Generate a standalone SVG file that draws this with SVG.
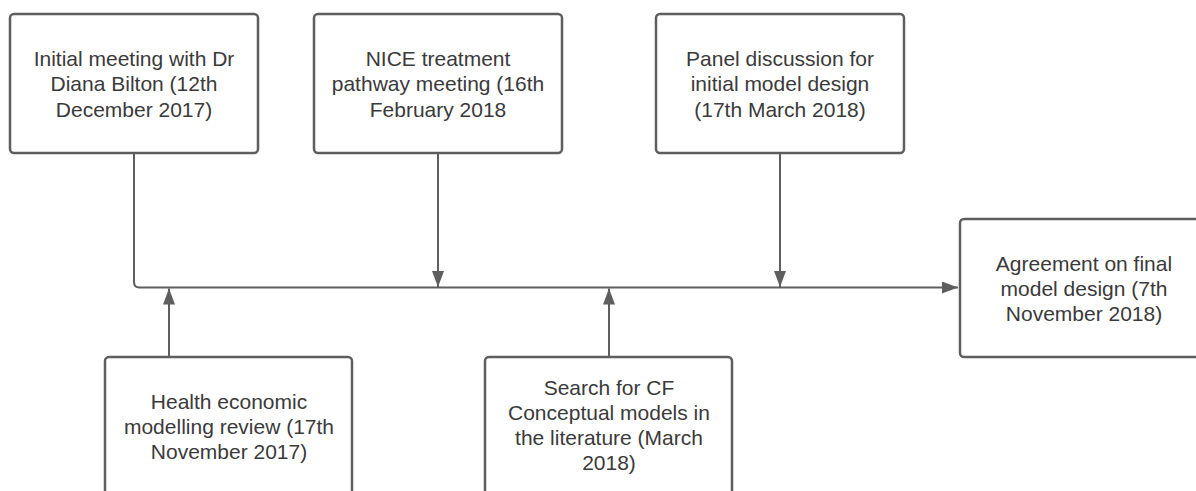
<svg xmlns="http://www.w3.org/2000/svg" width="1196" height="491" viewBox="0 0 1196 491">
  <style>
    .box { fill: #ffffff; stroke: #5e5e5e; stroke-width: 2.5; }
    .lbl { font-family: "Liberation Sans", Arial, sans-serif; font-size: 21px; fill: #3a3a3a; text-anchor: middle; }
    .wire { fill: none; stroke: #5e5e5e; stroke-width: 2; }
  </style>
  <defs>
    <marker id="arrow" viewBox="0 0 16 12" refX="16" refY="6" markerWidth="16" markerHeight="12" markerUnits="userSpaceOnUse" orient="auto">
      <path d="M0,0 L16,6 L0,12 Z" fill="#5e5e5e"/>
    </marker>
  </defs>
  <rect width="1196" height="491" fill="#ffffff"/>

  <!-- connectors -->
  <g id="connectors">
    <path class="wire" d="M134,153 V282 Q134,287.5 139.5,287.5 H958" marker-end="url(#arrow)"/>
    <path class="wire" d="M438,153 V287" marker-end="url(#arrow)"/>
    <path class="wire" d="M780,153 V287" marker-end="url(#arrow)"/>
    <path class="wire" d="M169,357 V288.5" marker-end="url(#arrow)"/>
    <path class="wire" d="M609,357 V288.5" marker-end="url(#arrow)"/>
  </g>

  <!-- nodes -->
  <g id="node-initial-meeting">
    <rect class="box" x="10" y="14" width="248" height="139" rx="4"/>
    <text class="lbl" x="134" y="65.5">Initial meeting with Dr</text>
    <text class="lbl" x="134" y="91">Diana Bilton (12th</text>
    <text class="lbl" x="134" y="116.5">December 2017)</text>
  </g>

  <g id="node-nice">
    <rect class="box" x="314" y="14" width="248" height="139" rx="4"/>
    <text class="lbl" x="438" y="65.5">NICE treatment</text>
    <text class="lbl" x="438" y="91">pathway meeting (16th</text>
    <text class="lbl" x="438" y="116.5">February 2018</text>
  </g>

  <g id="node-panel">
    <rect class="box" x="656" y="14" width="248" height="139" rx="4"/>
    <text class="lbl" x="780" y="65.5">Panel discussion for</text>
    <text class="lbl" x="780" y="91">initial model design</text>
    <text class="lbl" x="780" y="116.5">(17th March 2018)</text>
  </g>

  <g id="node-agreement">
    <rect class="box" x="960" y="219" width="248" height="138" rx="4"/>
    <text class="lbl" x="1084" y="270.5">Agreement on final</text>
    <text class="lbl" x="1084" y="295.5">model design (7th</text>
    <text class="lbl" x="1084" y="321">November 2018)</text>
  </g>

  <g id="node-health-economic">
    <rect class="box" x="105" y="357" width="247" height="139" rx="4"/>
    <text class="lbl" x="229" y="408.5">Health economic</text>
    <text class="lbl" x="229" y="433.5">modelling review (17th</text>
    <text class="lbl" x="229" y="458.5">November 2017)</text>
  </g>

  <g id="node-search">
    <rect class="box" x="485" y="357" width="247" height="139" rx="4"/>
    <text class="lbl" x="609" y="394.5">Search for CF</text>
    <text class="lbl" x="609" y="419.5">Conceptual models in</text>
    <text class="lbl" x="609" y="444.5">the literature (March</text>
    <text class="lbl" x="609" y="469.5">2018)</text>
  </g>
</svg>
